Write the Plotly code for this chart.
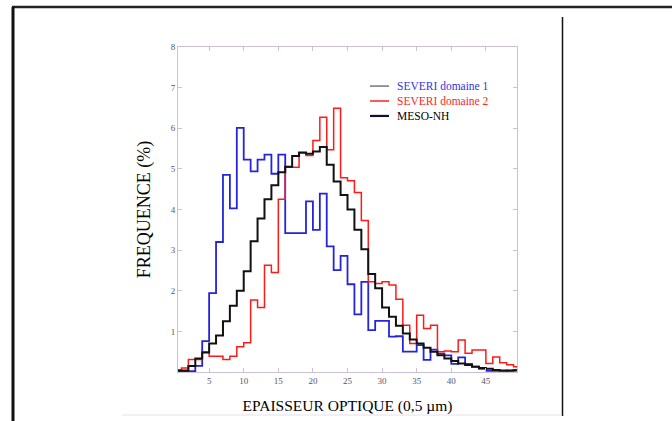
import plotly.graph_objects as go

# bin left edges (bins of width 1)
bin_edges = list(range(0, 51))

severi_d1 = [0.02, 0.02, 0.02, 0.15, 0.76, 1.94, 3.20, 4.85, 4.03, 6.01,
             5.23, 4.94, 5.23, 5.35, 4.88, 5.35, 3.42, 3.42, 3.42, 4.20,
             3.50, 4.39, 3.09, 2.51, 2.86, 2.16, 1.42, 2.22, 1.03, 1.26,
             1.26, 0.87, 0.88, 0.50, 0.50, 0.66, 0.30, 0.55, 0.45, 0.41,
             0.20, 0.36, 0.20, 0.13, 0.08, 0.03, 0.03, 0.03, 0.04, 0.05]

severi_d2 = [0.05, 0.10, 0.31, 0.31, 0.49, 0.39, 0.39, 0.31, 0.39, 0.62,
             0.72, 1.77, 1.59, 2.63, 2.45, 4.25, 5.04, 5.04, 5.39, 5.33,
             5.70, 6.27, 5.47, 6.49, 4.78, 4.71, 4.42, 3.73, 2.22, 2.18,
             2.22, 2.14, 1.79, 1.15, 0.70, 1.40, 1.07, 1.15, 0.50, 0.52,
             0.50, 0.79, 0.46, 0.54, 0.54, 0.21, 0.37, 0.23, 0.18, 0.13]

meso_nh = [0.04, 0.04, 0.15, 0.33, 0.48, 0.70, 0.90, 1.25, 1.63, 2.00,
           2.48, 3.22, 3.78, 4.25, 4.60, 4.92, 5.05, 5.32, 5.40, 5.37,
           5.43, 5.54, 5.10, 4.69, 4.36, 4.00, 3.50, 3.02, 2.41, 2.06,
           1.59, 1.36, 1.14, 0.95, 0.80, 0.70, 0.60, 0.50, 0.41, 0.33,
           0.27, 0.21, 0.17, 0.13, 0.10, 0.08, 0.05, 0.04, 0.03, 0.04]

series_names = ["SEVERI domaine 1", "SEVERI domaine 2", "MESO-NH"]
x_tick_vals = [5, 10, 15, 20, 25, 30, 35, 40, 45]
y_tick_vals = [1, 2, 3, 4, 5, 6, 7, 8]

line_cols = ["#2424dc", "#ff1a1a", "#111111"]
line_w = [1.8, 1.5, 2.0]
text_cols = ["#3434e0", "#ff2424", "#000000"]
legend_line_cols = ["#333333", "#ff2020", "#101030"]
legend_line_w = [1.0, 1.5, 2.2]

serif = "Liberation Serif, Times New Roman, serif"

fig = go.Figure()
for name, vals, col, w in zip(series_names, [severi_d1, severi_d2, meso_nh], line_cols, line_w):
    yv = list(vals) + [vals[-1]]
    fig.add_trace(go.Scatter(
        x=bin_edges, y=yv, mode="lines", line_shape="hv",
        line=dict(color=col, width=w), name=name, showlegend=False,
    ))

axis_col = "#cdbfd6"
fig.update_layout(
    width=672, height=421, autosize=False,
    paper_bgcolor="white", plot_bgcolor="white",
    margin=dict(l=178, r=155, t=47, b=49, autoexpand=False),
    xaxis=dict(range=[0.5, 49.5], tickvals=x_tick_vals, ticks="inside", ticklen=4,
               tickcolor=axis_col, showline=True, linecolor=axis_col, linewidth=1,
               mirror="ticks", showgrid=False, zeroline=False, automargin=False,
               tickfont=dict(family=serif, size=9, color="#555566"),
               title=dict(text="EPAISSEUR OPTIQUE (0,5 µm)", standoff=15,
                          font=dict(family=serif, size=15.5, color="black"))),
    yaxis=dict(range=[0, 8], tickvals=y_tick_vals, ticks="inside", ticklen=4,
               tickcolor=axis_col, showline=True, linecolor=axis_col, linewidth=1,
               mirror="ticks", showgrid=False, zeroline=False, automargin=False,
               tickfont=dict(family=serif, size=9, color="#555566"),
               title=dict(text="FREQUENCE (%)", standoff=15,
                          font=dict(family=serif, size=18, color="black"))),
)

def px2x(px):
    return (px - 178) / 339.0

def py2y(py):
    return (372 - py) / 325.0

# legend drawn as sample lines + one multi-line text block
leg_font = 11.5
row_gap = leg_font * 1.3
mid_py = 101
rows_py = [mid_py - row_gap, mid_py, mid_py + row_gap]
for i in range(3):
    yy = py2y(rows_py[i])
    fig.add_shape(type="line", xref="paper", yref="paper",
                  x0=px2x(370), x1=px2x(389), y0=yy, y1=yy,
                  line=dict(color=legend_line_cols[i], width=legend_line_w[i]))
leg_text = "<br>".join(f"<span style='color:{c}'>{n}</span>" for n, c in zip(series_names, text_cols))
fig.add_annotation(xref="paper", yref="paper", x=px2x(395), y=py2y(mid_py),
                   xanchor="left", yanchor="middle", align="left", showarrow=False,
                   text=leg_text, font=dict(family=serif, size=leg_font, color="black"))

# page frame decoration
frame = [
    (12, 7, 680, 7, "#222222", 2.5),
    (13, 7, 13, 440, "#111111", 3),
    (562.5, 17, 562.5, 416, "#111111", 1.5),
    (122, 415, 562, 415, "#e8dcec", 1),
]
for x0, y0, x1, y1, c, w in frame:
    fig.add_shape(type="line", xref="paper", yref="paper",
                  x0=px2x(x0), y0=py2y(y0), x1=px2x(x1), y1=py2y(y1),
                  line=dict(color=c, width=w))

page_js = (
    "var h=document.documentElement,b=document.body;"
    "h.style.margin='0';h.style.padding='0';h.style.overflow='hidden';h.style.height='421px';"
    "b.style.margin='0';b.style.padding='0';b.style.overflow='hidden';b.style.height='421px';"
    "var d=document.getElementById('{plot_id}');d.style.display='block';"
    "if(d.parentElement){d.parentElement.style.height='421px';d.parentElement.style.overflow='hidden';}"
)
fig.write_html("out.html", config={"displayModeBar": False}, post_script=page_js)
